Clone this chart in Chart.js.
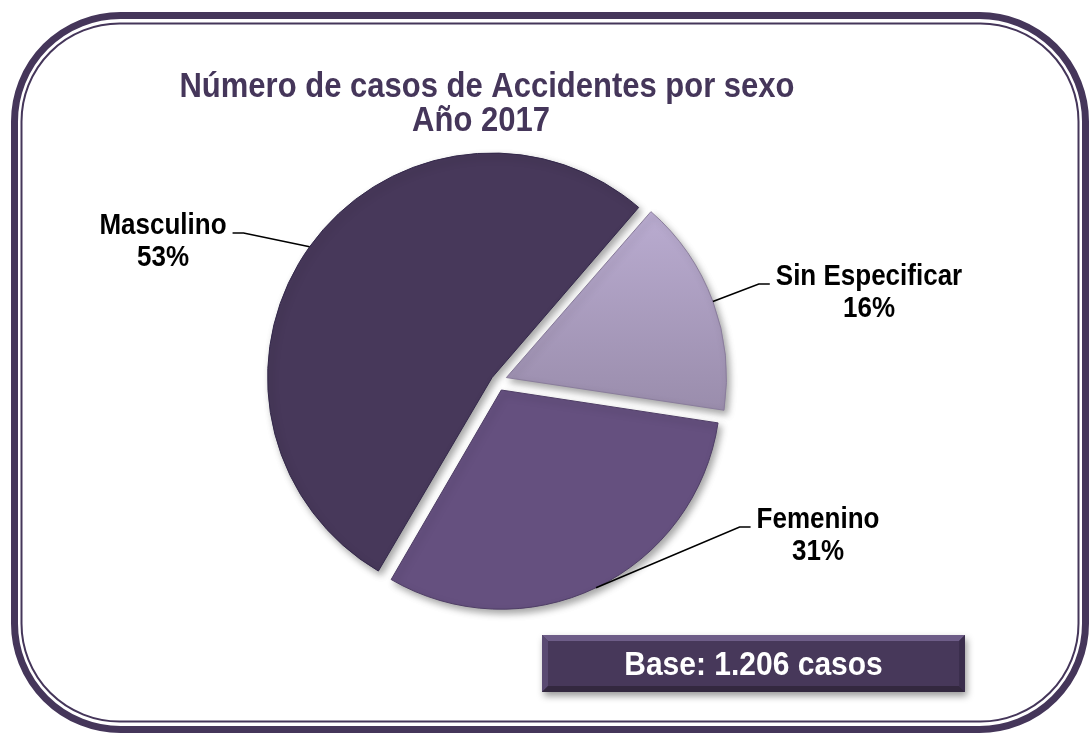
<!DOCTYPE html>
<html>
<head>
<meta charset="utf-8">
<script src="https://cdn.jsdelivr.net/npm/chart.js@4/dist/chart.umd.min.js"></script>
<style>
  html, body { margin: 0; padding: 0; background: #ffffff; }
  #wrap { width: 1089px; height: 734px; position: relative; }
</style>
</head>
<body>
<div id="wrap"><canvas id="c" width="1089" height="734"></canvas></div>
<script>
// ---- data ----
const categories = ['Sin Especificar', 'Femenino', 'Masculino'];
const percentValues = [16, 31, 53];
const titleLines = ['Número de casos de Accidentes por sexo', 'Año 2017'];
const baseNote = 'Base: 1.206 casos';

// ---- styles / layout (not data) ----
const sliceColors = ['#ab9dc0', '#65507f', '#47385a'];
const sliceBorders = ['#8a7d9c', '#4f3e66', '#33284a'];
const sliceOffsets = [40, 40, 24];
const labelLayout = [ // text block centre x, first baseline y, side of text relative to leader
  {cx: 869, by: 285, side: 'right'},
  {cx: 818, by: 528, side: 'right'},
  {cx: 163, by: 234, side: 'left'}
];
const frameColor = '#45365a';

function roundRectPath(ctx, x, y, w, h, r) {
  ctx.beginPath();
  ctx.moveTo(x + r, y);
  ctx.lineTo(x + w - r, y);
  ctx.arcTo(x + w, y, x + w, y + r, r);
  ctx.lineTo(x + w, y + h - r);
  ctx.arcTo(x + w, y + h, x + w - r, y + h, r);
  ctx.lineTo(x + r, y + h);
  ctx.arcTo(x, y + h, x, y + h - r, r);
  ctx.lineTo(x, y + r);
  ctx.arcTo(x, y, x + r, y, r);
  ctx.closePath();
}

function stretchedText(ctx, text, x, y, sy) {
  ctx.save();
  ctx.translate(x, y);
  ctx.scale(1, sy);
  ctx.fillText(text, 0, 0);
  ctx.restore();
}

const framePlugin = {
  id: 'frame',
  beforeDraw(chart) {
    const ctx = chart.ctx;
    ctx.save();
    ctx.fillStyle = '#ffffff';
    ctx.fillRect(0, 0, chart.width, chart.height);
    ctx.strokeStyle = frameColor;
    ctx.lineWidth = 7;
    roundRectPath(ctx, 14.5, 15.5, 1071, 714, 106);
    ctx.stroke();
    ctx.lineWidth = 2;
    roundRectPath(ctx, 21.5, 23.5, 1057, 698, 98);
    ctx.stroke();

    // title
    ctx.fillStyle = frameColor;
    ctx.font = 'bold 31px "Liberation Sans", Arial, sans-serif';
    ctx.textAlign = 'center';
    ctx.textBaseline = 'alphabetic';
    stretchedText(ctx, titleLines[0], 487, 97, 1.12);
    stretchedText(ctx, titleLines[1], 481, 131, 1.12);
    ctx.restore();
  },
  beforeDatasetsDraw(chart) {
    const ctx = chart.ctx;
    ctx.save();
    ctx.shadowColor = 'rgba(0,0,0,0.35)';
    ctx.shadowBlur = 7;
    ctx.shadowOffsetX = 3;
    ctx.shadowOffsetY = 4;
  },
  afterDatasetsDraw(chart) {
    const ctx = chart.ctx;
    ctx.restore();
    const meta = chart.getDatasetMeta(0);
    ctx.save();
    meta.data.forEach((arc, i) => {
      const p = arc.getProps(['x', 'y', 'startAngle', 'endAngle', 'outerRadius', 'circumference'], true);
      const off = (arc.options.offset || 0) / 4;
      const mid = (p.startAngle + p.endAngle) / 2;
      const fix = 1 - Math.sin(Math.min(Math.PI, p.circumference));
      const r = p.outerRadius + off * fix;
      const cx = p.x + Math.cos(mid) * off;
      const cy = p.y + Math.sin(mid) * off;
      const ax = cx + Math.cos(mid) * r;
      const ay = cy + Math.sin(mid) * r;
      const L = labelLayout[i];
      ctx.font = 'bold 26px "Liberation Sans", Arial, sans-serif';
      const w = ctx.measureText(categories[i]).width;
      const textEdge = L.side === 'right' ? L.cx - w / 2 : L.cx + w / 2;
      const dir = L.side === 'right' ? -1 : 1;
      const ex = textEdge + dir * 17;
      const hx = textEdge + dir * 6;
      ctx.strokeStyle = '#000000';
      ctx.lineWidth = 1.6;
      ctx.beginPath();
      ctx.moveTo(ax, ay);
      ctx.lineTo(ex, L.by - 1);
      ctx.lineTo(hx, L.by - 1);
      ctx.stroke();
      ctx.fillStyle = '#000000';
      ctx.textAlign = 'center';
      ctx.textBaseline = 'alphabetic';
      stretchedText(ctx, categories[i], L.cx, L.by, 1.1);
      stretchedText(ctx, percentValues[i] + '%', L.cx, L.by + 32, 1.1);
    });
    ctx.restore();
  },
  afterDraw(chart) {
    const ctx = chart.ctx;
    const bx = 542, by = 635, bw = 423, bh = 57, bev = 6;
    ctx.save();
    ctx.shadowColor = 'rgba(0,0,0,0.4)';
    ctx.shadowBlur = 7;
    ctx.shadowOffsetX = 2;
    ctx.shadowOffsetY = 4;
    ctx.fillStyle = '#47385a';
    ctx.fillRect(bx, by, bw, bh);
    ctx.restore();
    ctx.save();
    // bevel faces
    const faces = [
      {pts: [[bx, by], [bx + bw, by], [bx + bw - bev, by + bev], [bx + bev, by + bev]], c: '#6e5d88'},
      {pts: [[bx, by], [bx + bev, by + bev], [bx + bev, by + bh - bev], [bx, by + bh]], c: '#5a4a72'},
      {pts: [[bx + bw, by], [bx + bw, by + bh], [bx + bw - bev, by + bh - bev], [bx + bw - bev, by + bev]], c: '#3b2e4d'},
      {pts: [[bx, by + bh], [bx + bev, by + bh - bev], [bx + bw - bev, by + bh - bev], [bx + bw, by + bh]], c: '#33283f'}
    ];
    faces.forEach(f => {
      ctx.fillStyle = f.c;
      ctx.beginPath();
      ctx.moveTo(f.pts[0][0], f.pts[0][1]);
      for (let k = 1; k < f.pts.length; k++) ctx.lineTo(f.pts[k][0], f.pts[k][1]);
      ctx.closePath();
      ctx.fill();
    });
    ctx.fillStyle = '#ffffff';
    ctx.font = 'bold 30px "Liberation Sans", Arial, sans-serif';
    ctx.textAlign = 'center';
    ctx.textBaseline = 'alphabetic';
    stretchedText(ctx, baseNote, bx + bw / 2, 675, 1.08);
    ctx.restore();
  }
};

const ctx = document.getElementById('c').getContext('2d');
function sliceFill(context) {
  const i = context.dataIndex;
  if (i === 0) {
    const g = context.chart.ctx.createLinearGradient(0, 200, 0, 420);
    g.addColorStop(0, '#bcaed3');
    g.addColorStop(1, '#998cab');
    return g;
  }
  return sliceColors[i];
}

new Chart(ctx, {
  type: 'pie',
  data: {
    labels: categories,
    datasets: [{
      data: percentValues,
      backgroundColor: sliceFill,
      borderColor: sliceBorders,
      borderWidth: 1,
      offset: sliceOffsets,
      hoverOffset: 0
    }]
  },
  options: {
    responsive: false,
    animation: false,
    rotation: 41,
    layout: { padding: { left: 258, right: 353, top: 142, bottom: 114 } },
    plugins: {
      legend: { display: false },
      tooltip: { enabled: false },
      title: { display: false }
    },
    events: []
  },
  plugins: [framePlugin]
});
</script>
</body>
</html>
